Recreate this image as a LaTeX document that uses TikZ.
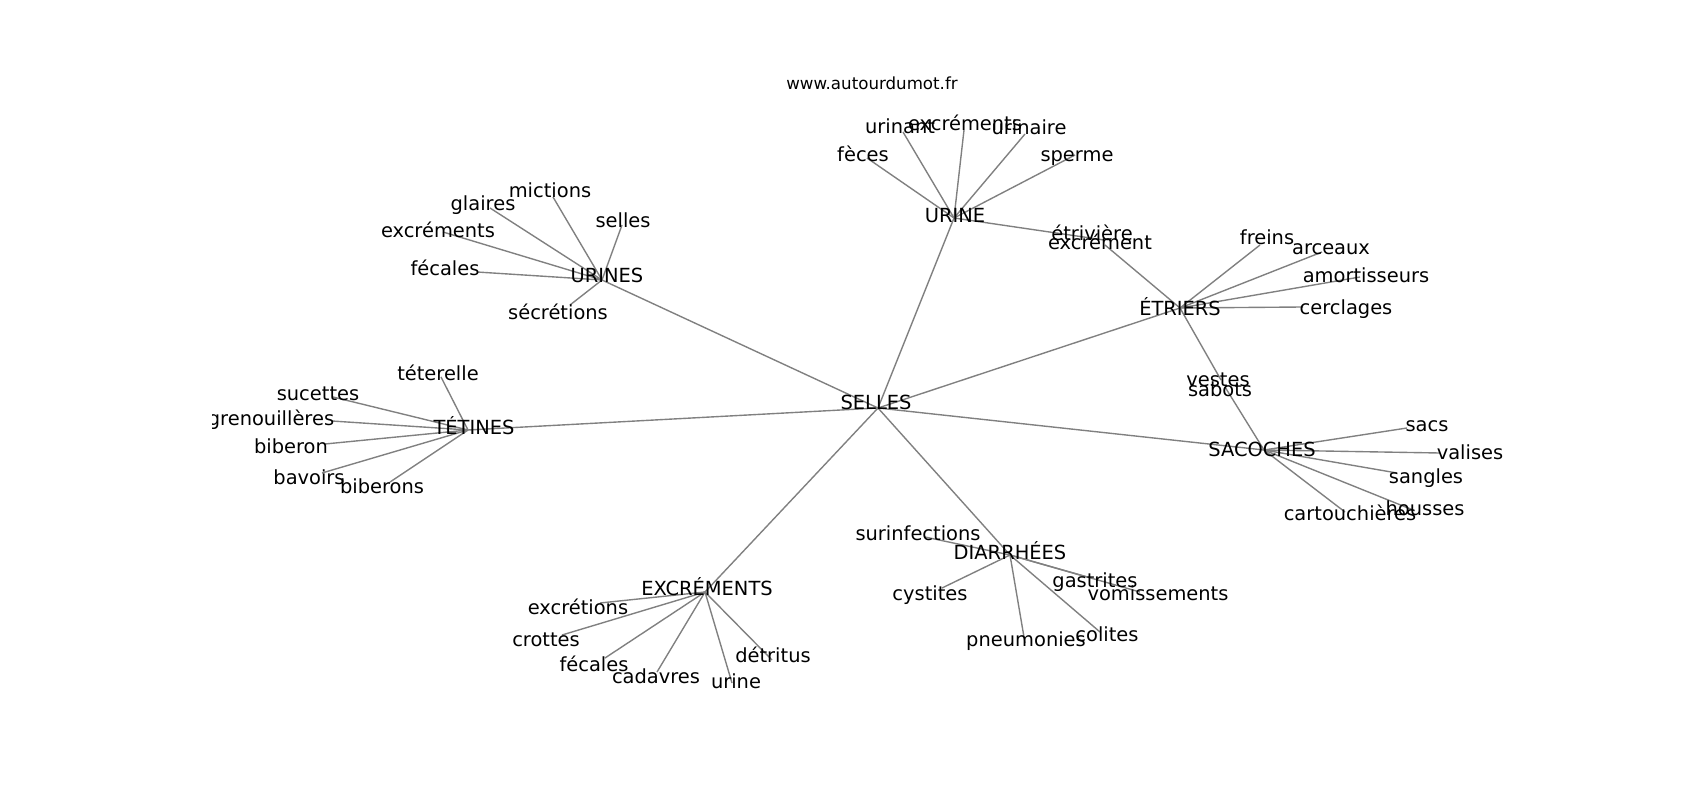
\documentclass[tikz,border=0pt]{standalone}
\usepackage{fontspec}
\setmainfont{DejaVu Sans}
\begin{document}
\begin{tikzpicture}[x=0.0254cm,y=-0.0254cm,
  lbl/.style={inner sep=0pt,anchor=center,yshift=-0.5mm,font=\fontsize{14bp}{16bp}\selectfont,text height=0.76em,text depth=0.24em},
  ttl/.style={inner sep=0pt,anchor=center,font=\fontsize{12bp}{14bp}\selectfont},
  edge/.style={draw=black!50,line width=1pt}]
\useasboundingbox (0,0) rectangle (1700,800);
\fill[white] (0,0) rectangle (1700,800);
\node[ttl] (title) at (872,83) {www.autourdumot.fr};
\begin{scope}
\clip (212.5,96) rectangle (1530,712);
% vertices
\coordinate (vSELLES) at (878,408);
\coordinate (vURINE) at (954,218);
\coordinate (vURINES) at (602,280);
\coordinate (vTETINES) at (468,430);
\coordinate (vETRIERS) at (1180,308);
\coordinate (vSACOCHES) at (1264,450);
\coordinate (vDIARRHEES) at (1010,555);
\coordinate (vEXCREMENTS) at (705,592);
% URINE leaves
\coordinate (vfeces) at (867,158);
\coordinate (vurinant) at (903,132);
\coordinate (vexcrementsA) at (964,130);
\coordinate (vurinaire) at (1025,134);
\coordinate (vsperme) at (1075,155);
\coordinate (vexcrement) at (1104,240);
% URINES leaves
\coordinate (vmictions) at (553,197);
\coordinate (vglaires) at (490,208);
\coordinate (vselles) at (622,225);
\coordinate (vexcrementsB) at (443,232);
\coordinate (vfecalesA) at (477,272);
\coordinate (vsecretions) at (570,305);
% TETINES leaves
\coordinate (vteterelle) at (441,377);
\coordinate (vsucettes) at (333,397);
\coordinate (vgrenouilleres) at (332,421);
\coordinate (vbiberon) at (325,444);
\coordinate (vbavoirs) at (322,473);
\coordinate (vbiberons) at (390,482);
% ETRIERS leaves
\coordinate (vetriviere) at (1105,245);
\coordinate (vfreins) at (1260,245);
\coordinate (varceaux) at (1322,252);
\coordinate (vamortisseurs) at (1360,277);
\coordinate (vcerclages) at (1303,307);
\coordinate (vvestes) at (1221,380);
% SACOCHES leaves
\coordinate (vsabots) at (1225,387);
\coordinate (vsacs) at (1407,428);
\coordinate (vvalises) at (1440,453);
\coordinate (vsangles) at (1397,473);
\coordinate (vhousses) at (1413,510);
\coordinate (vcartouchieres) at (1345,512);
% EXCREMENTS leaves
\coordinate (vexcretions) at (600,603);
\coordinate (vcrottes) at (562,635);
\coordinate (vfecalesB) at (605,658);
\coordinate (vcadavres) at (657,672);
\coordinate (vurine) at (732,683);
\coordinate (vdetritus) at (772,660);
% DIARRHEES leaves
\coordinate (vsurinfections) at (925,537);
\coordinate (vcystites) at (942,588);
\coordinate (vgastrites) at (1087,577);
\coordinate (vvomissements) at (1140,592);
\coordinate (vpneumonies) at (1025,643);
\coordinate (vcolites) at (1100,632);
% edges
\foreach \h in {URINE,URINES,TETINES,ETRIERS,SACOCHES,DIARRHEES,EXCREMENTS}
  \draw[edge] (vSELLES) -- (v\h);
\foreach \l in {feces,urinant,excrementsA,urinaire,sperme,excrement}
  \draw[edge] (vURINE) -- (v\l);
\foreach \l in {mictions,glaires,selles,excrementsB,fecalesA,secretions}
  \draw[edge] (vURINES) -- (v\l);
\foreach \l in {teterelle,sucettes,grenouilleres,biberon,bavoirs,biberons}
  \draw[edge] (vTETINES) -- (v\l);
\foreach \l in {etriviere,freins,arceaux,amortisseurs,cerclages,vestes}
  \draw[edge] (vETRIERS) -- (v\l);
\foreach \l in {sabots,sacs,valises,sangles,housses,cartouchieres}
  \draw[edge] (vSACOCHES) -- (v\l);
\foreach \l in {excretions,crottes,fecalesB,cadavres,urine,detritus}
  \draw[edge] (vEXCREMENTS) -- (v\l);
\foreach \l in {surinfections,cystites,gastrites,vomissements,pneumonies,colites}
  \draw[edge] (vDIARRHEES) -- (v\l);
% labels
\node[lbl] (tSELLES) at (876,404) {SELLES};
\node[lbl] (tURINE) at (955,217) {URINE};
\node[lbl] (tfeces) at (863,156) {fèces};
\node[lbl] (turinant) at (900,128) {urinant};
\node[lbl] (texcrementsA) at (965,125) {excréments};
\node[lbl] (turinaire) at (1029,129) {urinaire};
\node[lbl] (tsperme) at (1077,156) {sperme};
\node[lbl] (texcrement) at (1100,244) {excrément};
\node[lbl] (tetriviere) at (1092,235) {étrivière};
\node[lbl] (tURINES) at (607,277) {URINES};
\node[lbl] (tmictions) at (550,192) {mictions};
\node[lbl] (tglaires) at (483,205) {glaires};
\node[lbl] (tselles) at (623,222) {selles};
\node[lbl] (texcrementsB) at (438,232) {excréments};
\node[lbl] (tfecalesA) at (445,270) {fécales};
\node[lbl] (tsecretions) at (558,314) {sécrétions};
\node[lbl] (tTETINES) at (474,429) {TÉTINES};
\node[lbl] (tteterelle) at (438,375) {téterelle};
\node[lbl] (tsucettes) at (318,395) {sucettes};
\node[lbl] (tgrenouilleres) at (271,420) {grenouillères};
\node[lbl] (tbiberon) at (291,448) {biberon};
\node[lbl] (tbavoirs) at (309,479) {bavoirs};
\node[lbl] (tbiberons) at (382,488) {biberons};
\node[lbl] (tETRIERS) at (1180,310) {ÉTRIERS};
\node[lbl] (tfreins) at (1267,239) {freins};
\node[lbl] (tarceaux) at (1331,249) {arceaux};
\node[lbl] (tamortisseurs) at (1366,277) {amortisseurs};
\node[lbl] (tcerclages) at (1346,309) {cerclages};
\node[lbl] (tvestes) at (1218,381) {vestes};
\node[lbl] (tsabots) at (1220,391) {sabots};
\node[lbl] (tSACOCHES) at (1262,451) {SACOCHES};
\node[lbl] (tsacs) at (1427,426) {sacs};
\node[lbl] (tvalises) at (1470,454) {valises};
\node[lbl] (tsangles) at (1426,478) {sangles};
\node[lbl] (thousses) at (1425,510) {housses};
\node[lbl] (tcartouchieres) at (1350,515) {cartouchières};
\node[lbl] (tEXCREMENTS) at (707,590) {EXCRÉMENTS};
\node[lbl] (texcretions) at (578,609) {excrétions};
\node[lbl] (tcrottes) at (546,641) {crottes};
\node[lbl] (tfecalesB) at (594,666) {fécales};
\node[lbl] (tcadavres) at (656,678) {cadavres};
\node[lbl] (turine) at (736,683) {urine};
\node[lbl] (tdetritus) at (773,657) {détritus};
\node[lbl] (tDIARRHEES) at (1010,554) {DIARRHÉES};
\node[lbl] (tsurinfections) at (918,535) {surinfections};
\node[lbl] (tcystites) at (930,595) {cystites};
\node[lbl] (tgastrites) at (1095,582) {gastrites};
\node[lbl] (tvomissements) at (1158,595) {vomissements};
\node[lbl] (tpneumonies) at (1026,641) {pneumonies};
\node[lbl] (tcolites) at (1107,636) {colites};
\end{scope}
\end{tikzpicture}
\end{document}
